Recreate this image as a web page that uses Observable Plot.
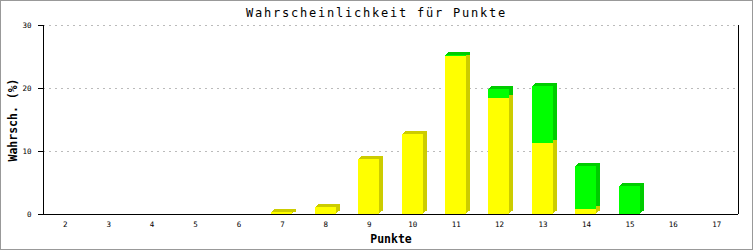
<!DOCTYPE html>
<html><head><meta charset="utf-8">
<script src="https://cdn.jsdelivr.net/npm/d3@7"></script>
<script src="https://cdn.jsdelivr.net/npm/@observablehq/plot@0.6"></script>
<style>
html,body{margin:0;padding:0;background:#fff;}
#wrap{position:relative;width:753px;height:250px;overflow:hidden;}
#wrap svg{display:block;position:absolute;left:0;top:0;}
#titel{position:absolute;left:0;top:6px;width:753px;text-align:center;font-family:"DejaVu Sans Mono",monospace;font-size:12px;letter-spacing:1.78px;color:#000;line-height:14px;}
#rand{position:absolute;left:0;top:0;width:753px;height:250px;box-sizing:border-box;border:1px solid #999;pointer-events:none;}
</style></head><body>
<div id="wrap"><div id="rand"></div></div>
<script>
// ---- data ----
const punkte = [2, 3, 4, 5, 6, 7, 8, 9, 10, 11, 12, 13, 14, 15, 16, 17];
const gelb   = [0, 0, 0, 0, 0, 0.3, 1.05, 8.7, 12.7, 25.1, 18.4, 11.3, 0.8, 0, 0, 0];
const gruen  = [null, null, null, null, null, null, null, null, null, 0.1, 1.4, 9.0, 6.8, 4.4, null, null];
const yTicks = [0, 10, 20, 30];
const titel = "Wahrscheinlichkeit für Punkte";
const xTitel = "Punkte";
const yTitel = "Wahrsch. (%)";

// ---- styles ----
const farben = {gelb: ["#ffff00", "#cccc00"], gruen: ["#00ff00", "#00cc00"]};
const tiefe = [[1, 1], [2, 2], [3, 3], [4, 3]];
const mono = "DejaVu Sans Mono";

const segGelb = punkte.map((p, i) => ({p, y1: 0, y2: gelb[i]})).filter(d => d.y2 > 0);
const segGruen = punkte.map((p, i) => gruen[i] == null ? null : ({p, y1: gelb[i], y2: gelb[i] + gruen[i]})).filter(Boolean);
const kappen = punkte.map((p, i) => ({p, top: gelb[i] + (gruen[i] ?? 0), serie: gruen[i] != null ? "gruen" : "gelb"})).filter(d => d.top > 0);

const pos = {x1: d => d.p - 0.5, x2: d => d.p + 0.5, y1: "y1", y2: "y2", insetLeft: 11, insetRight: 11.4, shapeRendering: "crispEdges"};

const chart = Plot.plot({
  width: 753, height: 250,
  marginLeft: 43, marginRight: 15, marginTop: 25, marginBottom: 36,
  style: {background: "transparent", fontFamily: mono, color: "#000"},
  x: {domain: [1.5, 17.5]},
  y: {domain: [0, 30]},
  color: {type: "identity"},
  marks: [
    Plot.ruleY(yTicks.filter(t => t > 0), {stroke: "#bbb", strokeDasharray: "2,4", shapeRendering: "crispEdges"}),
    ...tiefe.map(([dx, dy]) => Plot.rect(segGruen, {...pos, fill: farben.gruen[1], dx, dy: -dy})),
    ...tiefe.map(([dx, dy]) => Plot.rect(segGelb, {...pos, fill: farben.gelb[1], dx, dy: -dy})),
    ...tiefe.map(([dx, dy]) => Plot.rect(kappen, {x1: d => d.p - 0.5, x2: d => d.p + 0.5, y1: "top", y2: "top", insetLeft: 11, insetRight: 11.4, insetTop: -dy, fill: d => farben[d.serie][1], dx, shapeRendering: "crispEdges"})),
    Plot.rect(segGelb, {...pos, fill: farben.gelb[0]}),
    Plot.rect(segGruen, {...pos, fill: farben.gruen[0]}),
    Plot.ruleY([0], {stroke: "#000", shapeRendering: "crispEdges"}),
    Plot.ruleX([1.5, 17.5], {y1: 0, y2: 30, stroke: "#000", shapeRendering: "crispEdges"}),
    Plot.axisY({ticks: yTicks, tickSize: 5, tickPadding: 7, fontSize: 7.5, fontFamily: mono, label: null, tickFormat: d => String(d)}),
    Plot.axisX({ticks: punkte, tickSize: 0, tickPadding: 7, fontSize: 7.5, fontFamily: mono, label: null, tickFormat: d => String(d)}),
    Plot.text([xTitel], {text: d => d, frameAnchor: "bottom", textAnchor: "middle", dy: 25, lineAnchor: "middle", fontWeight: "bold", fontSize: 11.5, fontFamily: mono}),
    Plot.text([yTitel], {text: d => d, frameAnchor: "left", textAnchor: "middle", dx: -30.5, rotate: -90, lineAnchor: "middle", fontWeight: "bold", fontSize: 11.5, fontFamily: mono})
  ]
});
const wrap = document.getElementById("wrap");
wrap.insertBefore(chart, wrap.firstChild);
const t = document.createElement("div");
t.id = "titel";
t.textContent = titel;
wrap.appendChild(t);
</script>
</body></html>
